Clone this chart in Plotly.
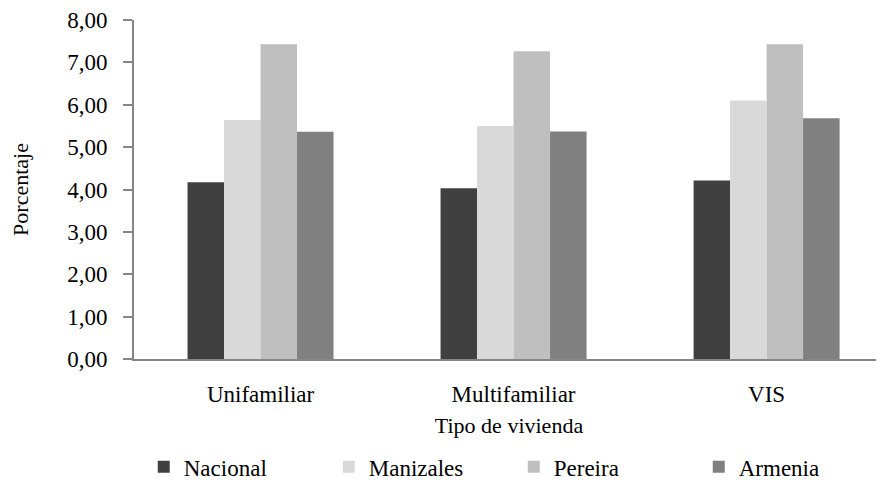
import plotly.graph_objects as go

categories = ["Unifamiliar", "Multifamiliar", "VIS"]
nacional = [4.17, 4.03, 4.21]
manizales = [5.64, 5.50, 6.10]
pereira = [7.43, 7.26, 7.43]
armenia = [5.36, 5.37, 5.68]
y_ticks = [0, 1, 2, 3, 4, 5, 6, 7, 8]
y_tick_labels = ["0,00", "1,00", "2,00", "3,00", "4,00", "5,00", "6,00", "7,00", "8,00"]

series = [
    ("Nacional", nacional, "#404040"),
    ("Manizales", manizales, "#d9d9d9"),
    ("Pereira", pereira, "#bfbfbf"),
    ("Armenia", armenia, "#808080"),
]

font = "Liberation Serif"

fig = go.Figure()
for name, vals, color in series:
    label = f"<span style='font-family:{font}'>{name}</span>"
    fig.add_trace(go.Bar(x=categories, y=vals, name=label, marker_color=color,
                         marker_line_width=0))

fig.update_layout(
    width=884, height=482,
    paper_bgcolor="white", plot_bgcolor="white",
    margin=dict(l=126, r=8, t=12, b=131),
    barmode="group", bargap=0.423, bargroupgap=0,
    font=dict(family=font, size=22, color="black"),
    xaxis=dict(range=[-0.5, 2.464], showline=True, linecolor="#868686", linewidth=2,
               ticks="", showgrid=False, automargin=False,
               tickfont=dict(family=font, size=23, color="black"), ticklabelstandoff=13,
               title=dict(text="Tipo de vivienda", standoff=12,
                          font=dict(family=font, size=22, color="black"))),
    yaxis=dict(range=[0, 8], tickvals=y_ticks, ticktext=y_tick_labels,
               showline=True, linecolor="#868686", linewidth=2,
               ticks="outside", ticklen=9, tickcolor="#868686", tickwidth=2,
               showgrid=False, zeroline=False, automargin=False,
               tickfont=dict(family=font, size=23, color="black"), ticklabelstandoff=11,
               title=dict(text="Porcentaje", standoff=32,
                          font=dict(family=font, size=22, color="black"))),
    legend=dict(orientation="h", x=0.013, xanchor="left",
                yref="container", y=0.048, yanchor="middle",
                entrywidth=140, entrywidthmode="pixels",
                font=dict(family=font, size=23, color="black")),
)

fig.write_html("out.html")
